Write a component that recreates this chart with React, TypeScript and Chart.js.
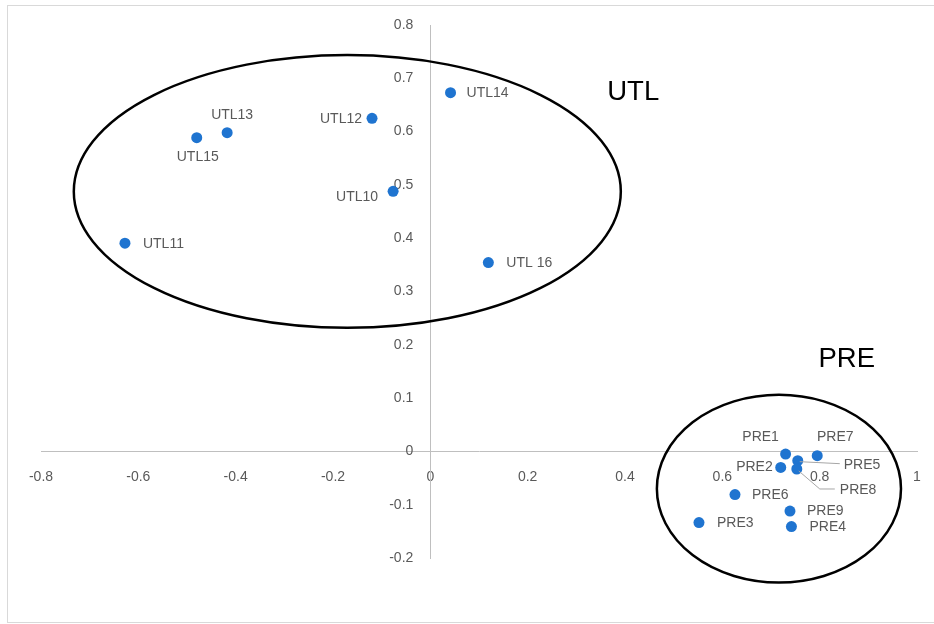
import React, { useEffect, useRef } from 'react';
import { Chart, registerables } from 'chart.js';

Chart.register(...registerables);

// ---- data ----
const pointNames = ['UTL14', 'UTL12', 'UTL13', 'UTL15', 'UTL10', 'UTL11', 'UTL 16', 'PRE1', 'PRE7', 'PRE5', 'PRE2', 'PRE8', 'PRE6', 'PRE9', 'PRE3', 'PRE4'];
const xValues = [0.0415, -0.1198, -0.4175, -0.48, -0.0765, -0.6275, 0.1192, 0.73, 0.795, 0.755, 0.72, 0.753, 0.626, 0.739, 0.552, 0.742];
const yValues = [0.673, 0.625, 0.598, 0.5886, 0.488, 0.3906, 0.3543, -0.005, -0.008, -0.0174, -0.03, -0.033, -0.081, -0.112, -0.1336, -0.141];

const xTickValues = [-0.8, -0.6, -0.4, -0.2, 0, 0.2, 0.4, 0.6, 0.8, 1];
const xTickLabels = ['-0.8', '-0.6', '-0.4', '-0.2', '0', '0.2', '0.4', '0.6', '0.8', '1'];
const yTickValues = [-0.2, -0.1, 0, 0.1, 0.2, 0.3, 0.4, 0.5, 0.6, 0.7, 0.8];
const yTickLabels = ['-0.2', '-0.1', '0', '0.1', '0.2', '0.3', '0.4', '0.5', '0.6', '0.7', '0.8'];

// cluster ellipses (data units)
const groupNames = ['UTL', 'PRE'];
const groupCenterX = [-0.1706, 0.7163];
const groupCenterY = [0.4877, -0.0699];
const groupRadiusX = [0.562, 0.2508];
const groupRadiusY = [0.2559, 0.1762];
const groupTitleX = [0.3635, 0.7975];
const groupTitleY = [0.674, 0.1719];

// ---- label styling (pixel offsets from the marker) ----
type LabelStyle = { dx: number; dy: number; align: CanvasTextAlign; leader?: number[][] };
const labelStyles: Record<string, LabelStyle> = {
  'UTL14': { dx: 16, dy: 0.5, align: 'left' },
  'UTL12': { dx: -10, dy: 0.5, align: 'right' },
  'UTL13': { dx: 5, dy: -17.5, align: 'center' },
  'UTL15': { dx: 1, dy: 19.5, align: 'center' },
  'UTL10': { dx: -15, dy: 5.5, align: 'right' },
  'UTL11': { dx: 18, dy: 0.7, align: 'left' },
  'UTL 16': { dx: 18, dy: 0.6, align: 'left' },
  'PRE1': { dx: -25, dy: -17, align: 'center' },
  'PRE7': { dx: 18, dy: -19, align: 'center' },
  'PRE5': { dx: 46, dy: 4, align: 'left', leader: [[2, 1], [42, 3]] },
  'PRE2': { dx: -8, dy: 0, align: 'right' },
  'PRE8': { dx: 43, dy: 21, align: 'left', leader: [[2, 2], [23, 20], [38, 20]] },
  'PRE6': { dx: 17, dy: 1, align: 'left' },
  'PRE9': { dx: 17, dy: 0.5, align: 'left' },
  'PRE3': { dx: 18, dy: 1, align: 'left' },
  'PRE4': { dx: 18, dy: 1, align: 'left' },
};

const FONT_FAMILY = '"Liberation Sans", Arial, sans-serif';
const TEXT_COLOR = '#595959';
const AXIS_COLOR = '#bfbfbf';
const POINT_COLOR = '#1f74d0';
const Y_LABEL_GAP = 17;
const X_LABEL_GAP = 17;

const findLabel = (values: number[], labels: string[], v: number) => {
  const i = values.findIndex((t) => Math.abs(t - v) < 1e-6);
  return i >= 0 ? labels[i] : '';
};

// Value-positioned axes: move tick labels away from the axis lines without
// letting ticks.padding shrink the chart area.
const axisLabelGapPlugin = {
  id: 'axisLabelGap',
  beforeDraw(chart: any) {
    const shift = (scale: any, dx: number, dy: number) => {
      if (!scale || typeof scale.getLabelItems !== 'function') return;
      scale.getLabelItems(chart.chartArea).forEach((it: any) => {
        if (!it.__shifted && it.options && it.options.translation) {
          it.options.translation[0] += dx;
          it.options.translation[1] += dy;
          it.__shifted = true;
        }
      });
    };
    shift(chart.scales.y, -Y_LABEL_GAP, 0);
    shift(chart.scales.x, 0, X_LABEL_GAP);
  },
};

const ellipsePlugin = {
  id: 'clusterEllipses',
  beforeDatasetsDraw(chart: any) {
    const { ctx, scales } = chart;
    const xs = scales.x;
    const ys = scales.y;
    ctx.save();
    for (let i = 0; i < groupNames.length; i++) {
      const cx = xs.getPixelForValue(groupCenterX[i]);
      const cy = ys.getPixelForValue(groupCenterY[i]);
      const rx = Math.abs(xs.getPixelForValue(groupCenterX[i] + groupRadiusX[i]) - cx);
      const ry = Math.abs(ys.getPixelForValue(groupCenterY[i] + groupRadiusY[i]) - cy);
      ctx.beginPath();
      ctx.ellipse(cx, cy, rx, ry, 0, 0, Math.PI * 2);
      ctx.lineWidth = 2.5;
      ctx.strokeStyle = '#000000';
      ctx.stroke();
      ctx.font = '27.5px ' + FONT_FAMILY;
      ctx.fillStyle = '#000000';
      ctx.textAlign = 'left';
      ctx.textBaseline = 'middle';
      ctx.fillText(groupNames[i], xs.getPixelForValue(groupTitleX[i]), ys.getPixelForValue(groupTitleY[i]));
    }
    ctx.restore();
  },
};

const pointLabelPlugin = {
  id: 'pointLabels',
  afterDatasetsDraw(chart: any) {
    const { ctx } = chart;
    const meta = chart.getDatasetMeta(0);
    ctx.save();
    ctx.font = '14px ' + FONT_FAMILY;
    ctx.textBaseline = 'middle';
    meta.data.forEach((el: any, i: number) => {
      const name = pointNames[i];
      const st = labelStyles[name] || { dx: 16, dy: 0, align: 'left' };
      if (st.leader) {
        ctx.beginPath();
        st.leader.forEach((p, k) => {
          if (k === 0) ctx.moveTo(el.x + p[0], el.y + p[1]);
          else ctx.lineTo(el.x + p[0], el.y + p[1]);
        });
        ctx.lineWidth = 1;
        ctx.strokeStyle = '#a6a6a6';
        ctx.stroke();
      }
      ctx.fillStyle = TEXT_COLOR;
      ctx.textAlign = st.align;
      ctx.fillText(name, el.x + st.dx, el.y + st.dy);
    });
    ctx.restore();
  },
};

export default function App() {
  const canvasRef = useRef<HTMLCanvasElement>(null);

  useEffect(() => {
    if (!canvasRef.current) return;
    const tickFont = { family: FONT_FAMILY, size: 14 };
    const chart = new Chart(canvasRef.current, {
      type: 'scatter',
      data: {
        datasets: [
          {
            data: xValues.map((x, i) => ({ x, y: yValues[i] })),
            pointRadius: 5.5,
            pointHoverRadius: 5.5,
            backgroundColor: POINT_COLOR,
            borderWidth: 0,
          },
        ],
      },
      options: {
        responsive: false,
        animation: false,
        events: [],
        layout: { padding: { left: 41, right: 17, top: 25, bottom: 66 } },
        plugins: { legend: { display: false }, tooltip: { enabled: false } },
        scales: {
          x: {
            type: 'linear',
            min: -0.8,
            max: 1,
            position: { y: 0 } as any,
            afterFit: (s: any) => { s.height = 0; },
            ticks: {
              stepSize: 0.2,
              padding: 0,
              autoSkip: false,
              maxRotation: 0,
              font: tickFont,
              color: TEXT_COLOR,
              callback: (v: any) => findLabel(xTickValues, xTickLabels, Number(v)),
            },
            grid: { display: false, drawTicks: false },
            border: { display: true, color: AXIS_COLOR, width: 1 },
          },
          y: {
            type: 'linear',
            min: -0.2,
            max: 0.8,
            position: { x: 0 } as any,
            afterFit: (s: any) => { s.width = 0; },
            ticks: {
              stepSize: 0.1,
              padding: 0,
              autoSkip: false,
              font: tickFont,
              color: TEXT_COLOR,
              callback: (v: any) => findLabel(yTickValues, yTickLabels, Number(v)),
            },
            grid: { display: false, drawTicks: false },
            border: { display: true, color: AXIS_COLOR, width: 1 },
          },
        },
      },
      plugins: [axisLabelGapPlugin, ellipsePlugin, pointLabelPlugin],
    });
    return () => chart.destroy();
  }, []);

  return (
    <div style={{ position: 'absolute', left: 0, top: 0, width: 934, height: 624, overflow: 'hidden', background: '#ffffff' }}>
      <div
        style={{
          position: 'absolute',
          left: 7,
          top: 5,
          width: 940,
          height: 618,
          border: '1.5px solid #d9d9d9',
          boxSizing: 'border-box',
        }}
      />
      <canvas
        ref={canvasRef}
        width={934}
        height={624}
        style={{ position: 'absolute', left: 0, top: 0, width: 934, height: 624 }}
      />
    </div>
  );
}
